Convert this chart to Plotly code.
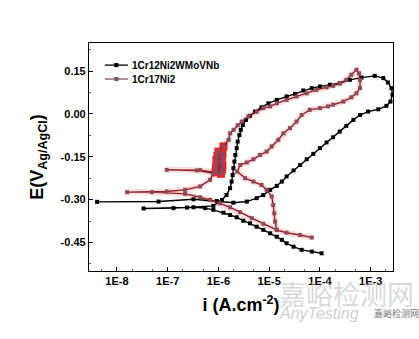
import numpy as np
import plotly.graph_objects as go

# 1Cr12Ni2WMoVNb cyclic polarization: log10(i) and E (V vs Ag/AgCl)
steel_a_logi = [-3.967, -4.16, -4.36, -4.52, -4.656, -4.75, -4.85, -4.98, -5.115, -5.246,
                -5.377, -5.51, -5.64, -5.77, -5.90, -6.10, -6.26, -6.49, -6.885, -7.475,
                -6.62, -6.10, -5.93, -5.84, -5.77, -5.74, -5.72, -5.705, -5.685, -5.666,
                -5.64, -5.62, -5.587, -5.56, -5.52, -5.456, -5.377, -5.28, -5.15, -5.016,
                -4.85, -4.656, -4.49, -4.33, -4.16, -4.0, -3.80, -3.61, -3.41, -3.18,
                -2.92, -2.75, -2.66, -2.59, -2.57, -2.61, -2.69, -2.85, -3.05, -3.21,
                -3.34, -3.48, -3.61, -3.74, -3.87, -4.0, -4.13, -4.26, -4.39, -4.52,
                -4.656, -4.75, -4.85, -4.98, -5.115, -5.246, -5.44, -5.705, -6.03, -6.49,
                -7.18, -8.39]
steel_a_E = [-0.488, -0.482, -0.476, -0.465, -0.453, -0.441, -0.430, -0.418, -0.406, -0.395,
             -0.383, -0.374, -0.362, -0.354, -0.346, -0.336, -0.330, -0.327, -0.330, -0.331,
             -0.328, -0.322, -0.301, -0.284, -0.260, -0.237, -0.214, -0.190, -0.167, -0.144,
             -0.120, -0.097, -0.074, -0.056, -0.039, -0.021, -0.007, 0.008, 0.023, 0.037,
             0.049, 0.061, 0.070, 0.082, 0.090, 0.096, 0.102, 0.107, 0.119, 0.127,
             0.133, 0.125, 0.110, 0.090, 0.067, 0.043, 0.028, 0.016, 0.008, -0.004,
             -0.021, -0.042, -0.062, -0.082, -0.100, -0.120, -0.140, -0.159, -0.179, -0.198,
             -0.219, -0.237, -0.252, -0.266, -0.284, -0.295, -0.307, -0.311, -0.305, -0.299,
             -0.307, -0.308]

# 1Cr17Ni2 cyclic polarization: log10(i) and E (V vs Ag/AgCl)
steel_b_logi = [-4.852, -5.115, -5.344, -5.574, -5.77, -5.967, -6.164, -6.36, -6.656, -7.31,
                -7.80, -7.02, -6.656, -6.36, -6.164, -6.10, -6.43, -7.02, -6.36, -6.06,
                -5.95, -6.04, -5.93, -6.05, -5.92, -6.03, -5.94, -6.04, -5.93, -6.02,
                -5.92, -6.00, -5.90, -5.80, -5.77, -5.70, -5.62, -5.54, -5.41, -5.246,
                -5.115, -4.98, -4.85, -4.656, -4.46, -4.26, -4.07, -3.87, -3.74, -3.61,
                -3.48, -3.38, -3.28, -3.23, -3.21, -3.21, -3.28, -3.38, -3.54, -3.74,
                -3.84, -4.0, -4.20, -4.36, -4.46, -4.59, -4.72, -4.82, -4.95, -5.05,
                -5.18, -5.31, -5.44, -5.57, -5.63, -5.475, -5.31, -5.15, -5.05, -4.95,
                -4.92, -4.90, -4.885, -4.85, -4.66, -4.39, -4.16]
steel_b_E = [-0.406, -0.385, -0.365, -0.344, -0.327, -0.313, -0.301, -0.292, -0.280, -0.274,
             -0.274, -0.272, -0.266, -0.254, -0.231, -0.208, -0.198, -0.196, -0.197, -0.205,
             -0.210, -0.203, -0.196, -0.189, -0.182, -0.175, -0.168, -0.161, -0.154, -0.147,
             -0.140, -0.132, -0.114, -0.091, -0.068, -0.056, -0.040, -0.027, -0.009, 0.008,
             0.020, 0.026, 0.037, 0.049, 0.061, 0.072, 0.084, 0.093, 0.098, 0.107,
             0.119, 0.137, 0.154, 0.142, 0.119, 0.090, 0.072, 0.058, 0.043, 0.032,
             0.026, 0.020, 0.014, -0.004, -0.027, -0.050, -0.068, -0.091, -0.114, -0.132,
             -0.144, -0.159, -0.170, -0.179, -0.202, -0.225, -0.237, -0.249, -0.266, -0.289,
             -0.319, -0.348, -0.377, -0.406, -0.416, -0.424, -0.433]

# noisy passive zone of 1Cr17Ni2 (indices into steel_b)
noisy_start, noisy_end = 19, 33

series_names = ["1Cr12Ni2WMoVNb", "1Cr17Ni2"]
line_colors = ["#000000", "#8a1f2a"]
marker_colors = ["#000000", "#8e4a58"]
legend_line_colors = ["#000000", "#7a5a64"]

x_tick_vals = [1e-8, 1e-7, 1e-6, 1e-5, 1e-4, 1e-3]
x_tick_text = ["1E-8", "1E-7", "1E-6", "1E-5", "1E-4", "1E-3"]
y_tick_vals = [0.15, 0.0, -0.15, -0.30, -0.45]
y_tick_text = ["0.15", "0.00", "-0.15", "-0.30", "-0.45"]

ia = np.power(10.0, steel_a_logi)
ib = np.power(10.0, steel_b_logi)

fig = go.Figure()

# soft red glow around the 1Cr17Ni2 curve
fig.add_trace(go.Scatter(x=ib, y=steel_b_E, mode="lines",
                         line=dict(color="rgba(230,50,50,0.16)", width=6),
                         showlegend=False, hoverinfo="skip"))
fig.add_trace(go.Scatter(x=ib[noisy_start:noisy_end], y=steel_b_E[noisy_start:noisy_end],
                         mode="markers",
                         marker=dict(symbol="square", size=8, color="#e82424"),
                         showlegend=False, hoverinfo="skip"))

fig.add_trace(go.Scatter(x=ia, y=steel_a_E, mode="lines+markers", name=series_names[0],
                         line=dict(color=line_colors[0], width=1.4),
                         marker=dict(symbol="square", size=4, color=marker_colors[0]),
                         showlegend=False))
fig.add_trace(go.Scatter(x=ib, y=steel_b_E, mode="lines+markers", name=series_names[1],
                         line=dict(color=line_colors[1], width=1.4),
                         marker=dict(symbol="square", size=4, color=marker_colors[1]),
                         showlegend=False))

# compact legend in the upper-left corner of the frame
legend_rows = [0.903, 0.842]
for name, ly, lc in zip(series_names, legend_rows, legend_line_colors):
    fig.add_shape(type="line", xref="paper", yref="paper", x0=0.052, x1=0.128, y0=ly, y1=ly,
                  line=dict(color=lc, width=1.3))
    fig.add_shape(type="rect", xref="paper", yref="paper", x0=0.083, x1=0.097,
                  y0=ly - 0.009, y1=ly + 0.009, line=dict(width=0), fillcolor=lc)
    fig.add_annotation(text="<b>" + name + "</b>", xref="paper", yref="paper", x=0.135, y=ly,
                       xanchor="left", yanchor="middle", showarrow=False,
                       font=dict(family="Liberation Sans, Arial", size=10, color="#000"))

tick_font = dict(family="Liberation Sans, Arial", size=11, color="#000", weight="bold")
fig.update_xaxes(type="log", range=[-8.55, -2.56],
                 tickvals=x_tick_vals, ticktext=x_tick_text,
                 ticks="inside", ticklen=4, tickwidth=1, tickcolor="#000",
                 minor=dict(ticks="inside", ticklen=2, tickcolor="#666"),
                 showline=True, linecolor="#000", linewidth=1.2, mirror=True,
                 showgrid=False, zeroline=False, tickfont=tick_font,
                 title=dict(text="<b>i (A.cm<sup>-2</sup>)</b>", standoff=12,
                            font=dict(family="Liberation Sans, Arial", size=18, color="#000")))
fig.update_yaxes(range=[-0.55, 0.248],
                 tickvals=y_tick_vals, ticktext=y_tick_text,
                 ticks="inside", ticklen=4, tickwidth=1, tickcolor="#000",
                 minor=dict(ticks="inside", ticklen=2, tickcolor="#666", dtick=0.075),
                 showline=True, linecolor="#000", linewidth=1.2, mirror=True,
                 showgrid=False, zeroline=False, tickfont=tick_font,
                 title=dict(text="<b>E(V<sub>Ag/AgCl</sub>)</b>", standoff=12,
                            font=dict(family="Liberation Sans, Arial", size=18, color="#000")))

fig.update_layout(
    width=419, height=339,
    margin=dict(l=89, r=26, t=43, b=68),
    paper_bgcolor="white", plot_bgcolor="white",
    showlegend=False,
)

# site watermark
fig.add_annotation(text="嘉峪检测网", xref="paper", yref="paper", x=0.62, y=-0.10,
                   xanchor="left", yanchor="middle", showarrow=False,
                   font=dict(family="Noto Sans CJK SC", size=27, color="rgba(205,205,205,0.75)"))
fig.add_annotation(text="<i>AnyTesting</i>", xref="paper", yref="paper", x=0.62, y=-0.185,
                   xanchor="left", yanchor="middle", showarrow=False,
                   font=dict(family="Liberation Sans, Arial", size=16, color="rgba(195,195,195,0.8)"))
fig.add_annotation(text="嘉峪检测网", xref="paper", yref="paper", x=0.93, y=-0.185,
                   xanchor="left", yanchor="middle", showarrow=False,
                   font=dict(family="Noto Sans CJK SC", size=9, color="#777"))

fig.write_html("out.html")
